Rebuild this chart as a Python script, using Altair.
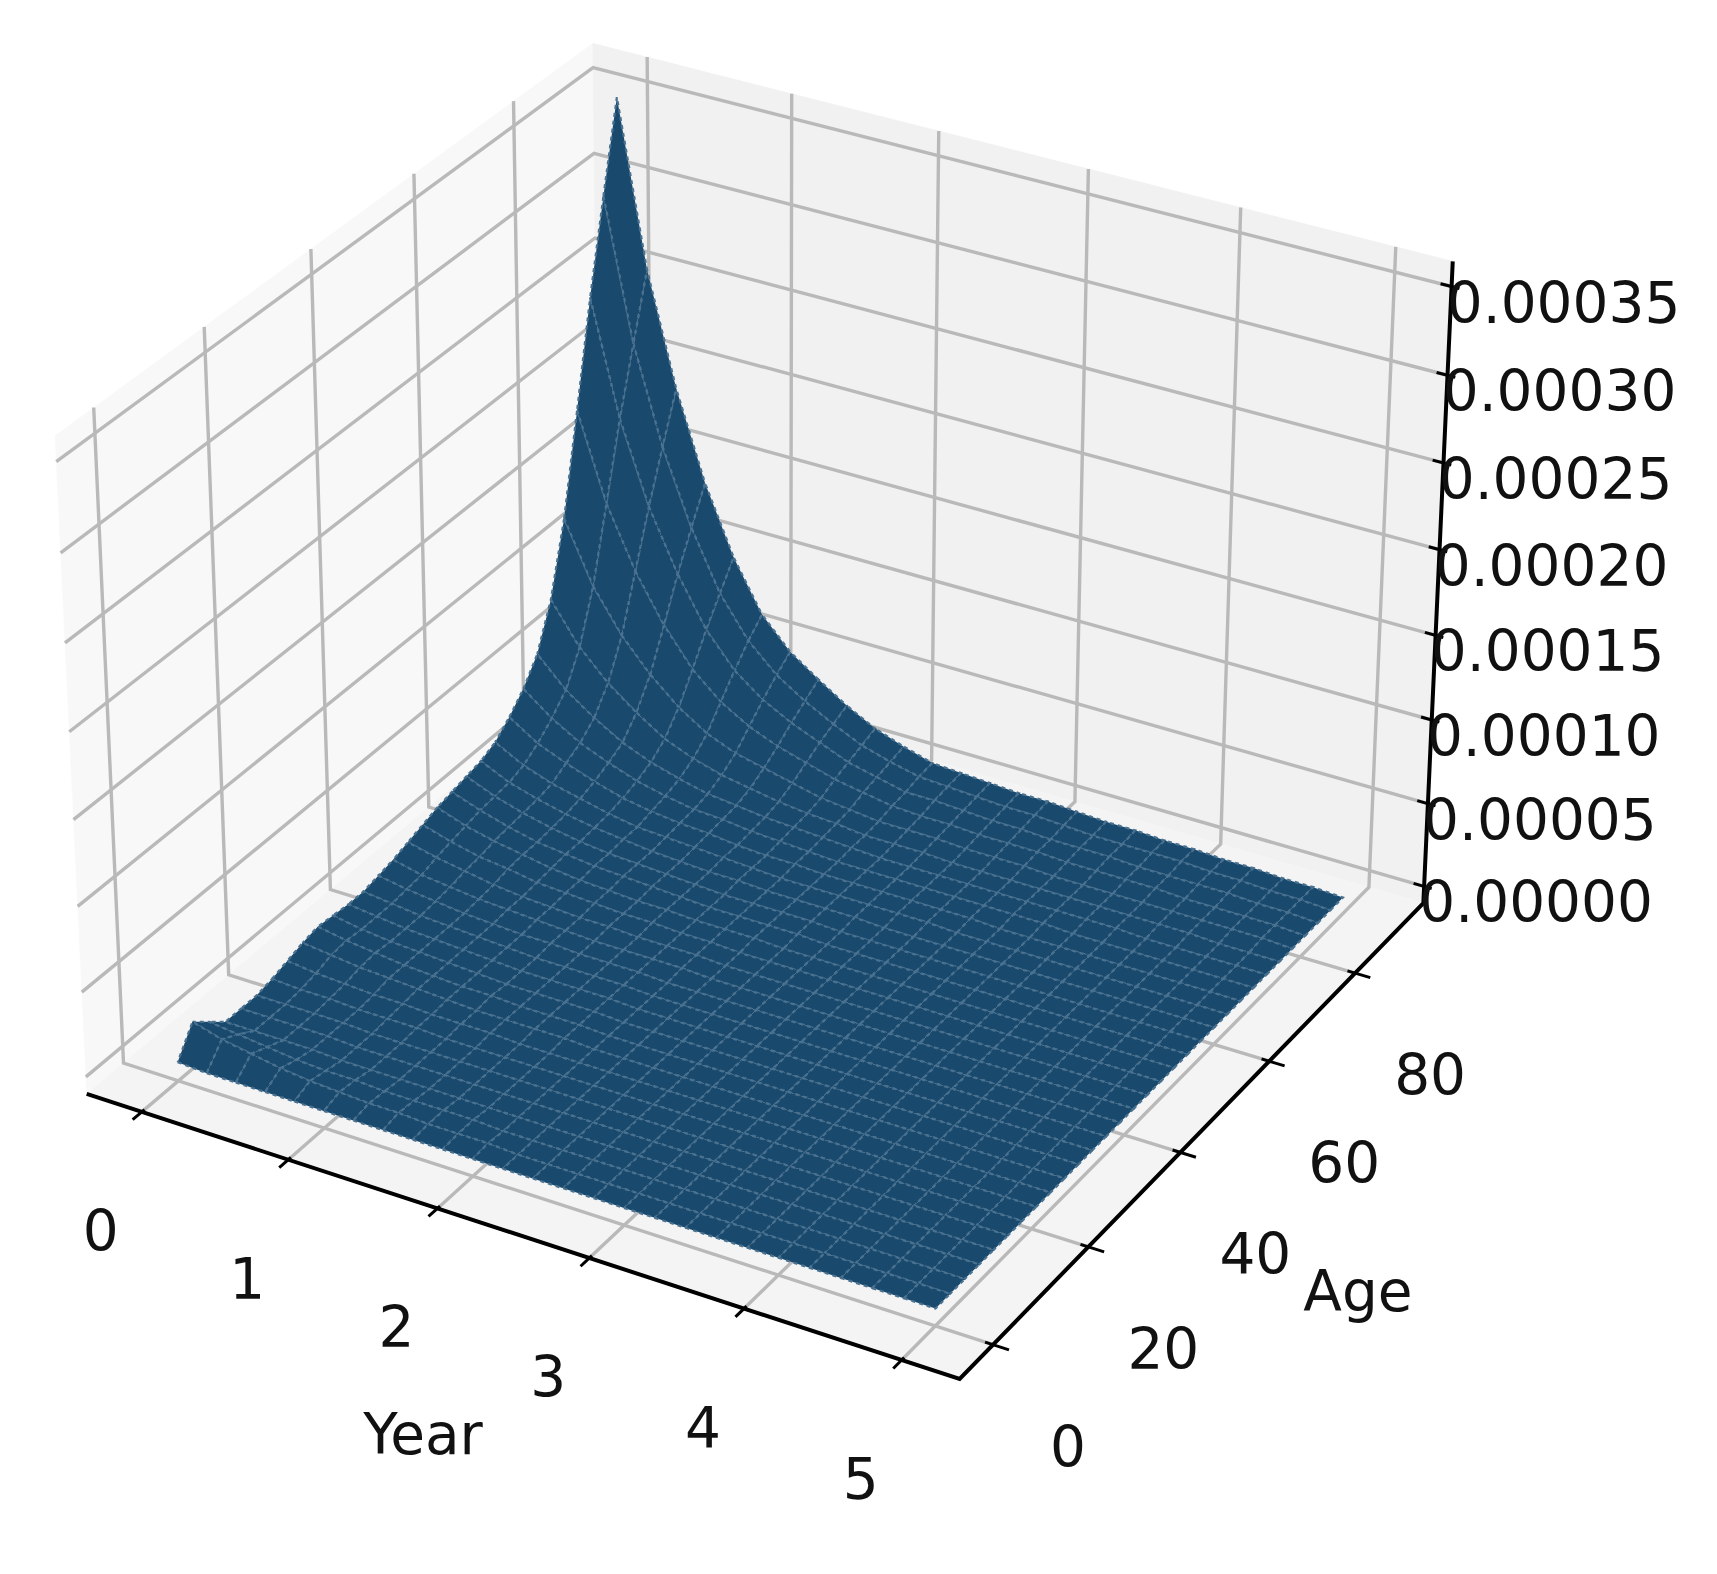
import math
import altair as alt
import pandas as pd

# ---- values ----
YEARS = [0.0, 0.2, 0.4, 0.6, 0.8, 1.0, 1.2, 1.4, 1.6, 1.8, 2.0, 2.2, 2.4, 2.6, 2.8, 3.0, 3.2, 3.4, 3.6, 3.8, 4.0, 4.2, 4.4, 4.6, 4.8, 5.0]
AGES = list(range(0, 91, 3))
# surface height in units of 1e-6; one row per year, one column per age
Z_ROWS = [
    [1,17,9,1,1,1,3,6,9,11, 10,9,9,11,13,16,19,22,24,26, 28,32,40,50,64,90,132,190,250,303, 354],
    [0,12,7,1,1,1,2,4,7,8, 7,7,7,8,9,12,14,16,18,19, 20,23,29,37,47,66,96,139,183,221, 258],
    [0,9,5,1,1,1,2,3,5,6, 5,5,5,6,7,9,10,12,13,14, 15,17,22,27,35,49,71,103,135,164, 192],
    [0,6,3,1,1,1,1,2,4,4, 4,4,4,4,5,6,8,9,9,10, 11,13,16,20,25,36,52,75,99,120, 140],
    [0,4,2,0,0,0,1,2,3,3, 3,3,3,3,4,4,5,6,7,7, 8,9,11,14,18,25,37,53,70,85, 100],
    [0,3,2,0,0,0,1,1,2,2, 2,2,2,2,3,3,4,4,5,5, 6,6,8,10,13,18,26,38,50,61, 70],
    [0,2,1,0,0,0,0,1,1,2, 1,1,1,2,2,2,3,3,4,4, 4,5,6,7,9,13,19,28,37,45, 52],
    [0,2,1,0,0,0,0,1,1,1, 1,1,1,1,1,2,2,2,3,3, 3,4,5,6,7,10,15,21,28,34, 40],
    [0,1,1,0,0,0,0,0,1,1, 1,1,1,1,1,1,2,2,2,2, 2,3,3,4,5,7,11,16,21,25, 29],
    [0,1,1,0,0,0,0,0,1,1, 1,1,1,1,1,1,1,1,1,1, 2,2,2,3,4,5,7,11,14,17, 20],
    [0,1,0,0,0,0,0,0,0,0, 0,0,0,0,1,1,1,1,1,1, 1,1,2,2,3,4,5,8,10,12, 14],
    [0,0,0,0,0,0,0,0,0,0, 0,0,0,0,0,0,0,1,1,1, 1,1,1,1,2,2,3,5,6,8, 9],
    [0,0,0,0,0,0,0,0,0,0, 0,0,0,0,0,0,0,0,1,1, 1,1,1,1,1,2,3,4,6,7, 8],
    [0,0,0,0,0,0,0,0,0,0, 0,0,0,0,0,0,0,0,0,0, 1,1,1,1,1,2,3,4,5,6, 7],
    [0,0,0,0,0,0,0,0,0,0, 0,0,0,0,0,0,0,0,0,0, 0,1,1,1,1,1,2,3,4,5, 6],
    [0,0,0,0,0,0,0,0,0,0, 0,0,0,0,0,0,0,0,0,0, 0,1,1,1,1,1,2,3,4,5, 6],
    [0,0,0,0,0,0,0,0,0,0, 0,0,0,0,0,0,0,0,0,0, 0,0,1,1,1,1,2,3,3,4, 5],
    [0,0,0,0,0,0,0,0,0,0, 0,0,0,0,0,0,0,0,0,0, 0,0,0,1,1,1,1,2,3,3, 4],
    [0,0,0,0,0,0,0,0,0,0, 0,0,0,0,0,0,0,0,0,0, 0,0,0,1,1,1,1,2,3,3, 4],
    [0,0,0,0,0,0,0,0,0,0, 0,0,0,0,0,0,0,0,0,0, 0,0,0,0,1,1,1,2,2,3, 3],
    [0,0,0,0,0,0,0,0,0,0, 0,0,0,0,0,0,0,0,0,0, 0,0,0,0,1,1,1,2,2,3, 3],
    [0,0,0,0,0,0,0,0,0,0, 0,0,0,0,0,0,0,0,0,0, 0,0,0,0,0,1,1,1,2,2, 2],
    [0,0,0,0,0,0,0,0,0,0, 0,0,0,0,0,0,0,0,0,0, 0,0,0,0,0,1,1,1,2,2, 2],
    [0,0,0,0,0,0,0,0,0,0, 0,0,0,0,0,0,0,0,0,0, 0,0,0,0,0,0,1,1,1,1, 1],
    [0,0,0,0,0,0,0,0,0,0, 0,0,0,0,0,0,0,0,0,0, 0,0,0,0,0,0,1,1,1,1, 1],
    [0,0,0,0,0,0,0,0,0,0, 0,0,0,0,0,0,0,0,0,0, 0,0,0,0,0,0,0,0,0,0, 0],
]
YEAR_TICKS = [0, 1, 2, 3, 4, 5]
AGE_TICKS = [0, 20, 40, 60, 80]
Z_TICKS = [0, 50, 100, 150, 200, 250, 300, 350]
Z_LABELS = ["0.00000", "0.00005", "0.00010", "0.00015", "0.00020", "0.00025", "0.00030", "0.00035"]

XLIM = (-0.381, 5.363)
YLIM = (-6.84, 96.4)
ZLIM = (-10.1, 364.1)

# ---- 3-D view: elevation 30, azimuth -60, box 4:4:3, distance 10 ----
BOX = (1.19048, 1.19048, 0.89286)
ELEV, AZIM, DIST = math.radians(30), math.radians(-60), 10.0
W = (math.cos(ELEV) * math.cos(AZIM), math.cos(ELEV) * math.sin(AZIM), math.sin(ELEV))
U = (-math.sin(AZIM), math.cos(AZIM), 0.0)
V = (W[1] * U[2] - W[2] * U[1], W[2] * U[0] - W[0] * U[2], W[0] * U[1] - W[1] * U[0])


def project(x, y, z):
    p = (
        ((x - XLIM[0]) / (XLIM[1] - XLIM[0]) - 0.5) * BOX[0],
        ((y - YLIM[0]) / (YLIM[1] - YLIM[0]) - 0.5) * BOX[1],
        ((z - ZLIM[0]) / (ZLIM[1] - ZLIM[0]) - 0.5) * BOX[2],
    )
    d = DIST - sum(a * b for a, b in zip(W, p))
    return sum(a * b for a, b in zip(U, p)) / d, sum(a * b for a, b in zip(V, p)) / d, d


X_SCALE = alt.Scale(domain=[-0.09040, 0.11198], zero=False, nice=False)
Y_SCALE = alt.Scale(domain=[-0.10464, 0.07988], zero=False, nice=False)


def table(paths):
    rows = []
    for i, path in enumerate(paths):
        for j, pt in enumerate(path):
            px, py, _ = project(*pt)
            rows.append({"id": i, "v": j, "px": px, "py": py})
    return pd.DataFrame(rows)


def enc(chart):
    return chart.encode(
        x=alt.X("px:Q", scale=X_SCALE, axis=None),
        y=alt.Y("py:Q", scale=Y_SCALE, axis=None),
        detail="id:N",
        order=alt.Order("v:Q"),
    )


def polylines(paths, color, width):
    return enc(alt.Chart(table(paths)).mark_line(color=color, strokeWidth=width, strokeCap="butt", interpolate="linear"))


def polygon(path, fill):
    return enc(alt.Chart(table([path])).mark_line(fill=fill, stroke=fill, strokeWidth=0.5, interpolate="linear"))


x0, x1 = XLIM
y0, y1 = YLIM
z0, z1 = ZLIM

panes = [
    polygon([(x0, y0, z0), (x0, y1, z0), (x0, y1, z1), (x0, y0, z1), (x0, y0, z0)], "#f8f8f8"),
    polygon([(x0, y1, z0), (x1, y1, z0), (x1, y1, z1), (x0, y1, z1), (x0, y1, z0)], "#f1f1f1"),
    polygon([(x0, y0, z0), (x1, y0, z0), (x1, y1, z0), (x0, y1, z0), (x0, y0, z0)], "#f4f4f4"),
]

grid_paths = []
for t in YEAR_TICKS:
    grid_paths.append([(t, y0, z0), (t, y1, z0), (t, y1, z1)])
for t in AGE_TICKS:
    grid_paths.append([(x1, t, z0), (x0, t, z0), (x0, t, z1)])
for t in Z_TICKS:
    grid_paths.append([(x0, y0, t), (x0, y1, t), (x1, y1, t)])
grid = polylines(grid_paths, "#b9b9b9", 3.4)

# surface quads, painted from the farthest to the nearest
quads = []
for i in range(len(YEARS) - 1):
    for j in range(len(AGES) - 1):
        pts = [
            (YEARS[i], AGES[j], Z_ROWS[i][j]),
            (YEARS[i + 1], AGES[j], Z_ROWS[i + 1][j]),
            (YEARS[i + 1], AGES[j + 1], Z_ROWS[i + 1][j + 1]),
            (YEARS[i], AGES[j + 1], Z_ROWS[i][j + 1]),
        ]
        depth = sum(project(*p)[2] for p in pts)
        quads.append((depth, pts + [pts[0]]))
quads.sort(key=lambda q: -q[0])
surface = enc(
    alt.Chart(table([q[1] for q in quads])).mark_line(
        fill="#194a6d", stroke="#4a7190", strokeWidth=2.2, strokeDash=[4, 4], interpolate="linear"
    )
)

axis_lines = polylines(
    [[(x0, y0, z0), (x1, y0, z0), (x1, y1, z0), (x1, y1, z1)]], "#000000", 4
)
tick_paths = []
for t in YEAR_TICKS:
    tick_paths.append([(t, y0 + 0.5, z0), (t, y0 - 1.7, z0)])
for t in AGE_TICKS:
    tick_paths.append([(x1 - 0.05, t, z0), (x1 + 0.10, t, z0)])
for t in Z_TICKS:
    tick_paths.append([(x1 - 0.07, y1, t), (x1 + 0.05, y1, t)])
ticks = polylines(tick_paths, "#000000", 3)


def labels(points, texts, dx, dy):
    rows = []
    for pt, s in zip(points, texts):
        px, py, _ = project(*pt)
        rows.append({"px": px, "py": py, "s": s})
    return (
        alt.Chart(pd.DataFrame(rows))
        .mark_text(font="DejaVu Sans", fontSize=56.5, align="center", baseline="middle", dx=dx, dy=dy, color="#111111")
        .encode(
            x=alt.X("px:Q", scale=X_SCALE, axis=None),
            y=alt.Y("py:Q", scale=Y_SCALE, axis=None),
            text="s:N",
        )
    )


texts = [
    labels([(t, y0, z0) for t in YEAR_TICKS], [str(t) for t in YEAR_TICKS], -41, 122),
    labels([(x1, t, z0) for t in AGE_TICKS], [str(t) for t in AGE_TICKS], 75, 105),
    labels([(x1, y1, t) for t in Z_TICKS], Z_LABELS, 112, 19),
    labels([(2.5, y0, z0)], ["Year"], -90, 204),
    labels([(x1, 45, z0)], ["Age"], 155, 165),
]

chart = alt.layer(*panes, grid, surface, axis_lines, ticks, *texts).properties(
    width=1700, height=1550, padding=0, background="#ffffff"
).configure_view(stroke=None)

chart.save("out.html", embed_options={"renderer": "svg", "actions": False})
